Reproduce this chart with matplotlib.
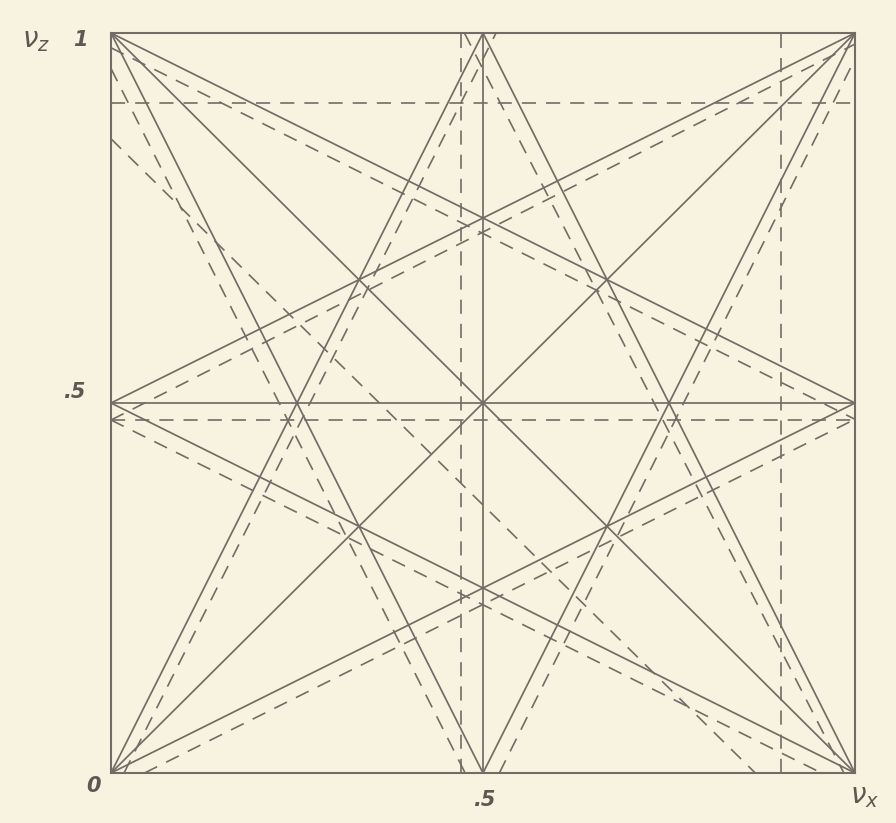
import matplotlib
matplotlib.use("Agg")
import matplotlib.pyplot as plt
import numpy as np

# Solid resonance lines: (x1, z1, x2, z2)
solid_x1 = [0.5, 0.0, 0.0, 0.0, 0.0, 0.5, 0.0, 0.5, 0.0, 0.0, 0.0, 0.0]
solid_z1 = [0.0, 0.5, 0.0, 1.0, 0.0, 1.0, 1.0, 0.0, 0.0, 0.5, 1.0, 0.5]
solid_x2 = [0.5, 1.0, 1.0, 1.0, 0.5, 1.0, 0.5, 1.0, 1.0, 1.0, 1.0, 1.0]
solid_z2 = [1.0, 0.5, 1.0, 0.0, 1.0, 0.0, 0.0, 1.0, 0.5, 0.0, 0.5, 1.0]

# Dashed (shifted) resonance lines
dash_x1 = [0.0, 0.0, 0.471, 0.900, 0.0, 0.045, 0.0, 0.0, 0.0, 0.0175, 0.475, 0.0, 0.522]
dash_z1 = [0.905, 0.477, 0.0, 0.0, 0.857, 0.0, 0.980, 0.477, 0.477, 0.0, 1.0, 0.952, 0.0]
dash_x2 = [1.0, 1.0, 0.471, 0.900, 0.866, 1.0, 1.0, 0.955, 1.0, 0.5175, 0.985, 0.476, 1.0]
dash_z2 = [0.905, 0.477, 1.0, 1.0, 0.0, 0.478, 0.478, 0.0, 0.985, 1.0, 0.0, 0.0, 0.965]

bg = "#f8f3e1"
ink = "#736c66"

W, H = 896, 823
fig = plt.figure(figsize=(W / 100, H / 100), dpi=100, facecolor=bg)
ax = fig.add_axes([111 / W, 1 - 773 / H, 744 / W, 740 / H])
ax.set_facecolor(bg)
ax.set_xlim(0, 1)
ax.set_ylim(0, 1)
for s in ax.spines.values():
    s.set_color(ink)
    s.set_linewidth(1.5)
ax.set_xticks([])
ax.set_yticks([])

for x1, z1, x2, z2 in zip(solid_x1, solid_z1, solid_x2, solid_z2):
    ax.plot([x1, x2], [z1, z2], color=ink, lw=1.25, solid_capstyle="butt")

for x1, z1, x2, z2 in zip(dash_x1, dash_z1, dash_x2, dash_z2):
    ax.plot([x1, x2], [z1, z2], color=ink, lw=1.2, dashes=(8.5, 6))

def ftext(px, py, s, size=15, **kw):
    fig.text(px / W, 1 - py / H, s, fontsize=size, color="#5e5853",
             fontweight="bold", style="italic", family="DejaVu Sans",
             ha="center", va="center", **kw)

ftext(36, 40, r"$\nu_z$", size=20)
ftext(80, 40, "1")
ftext(74, 392, ".5")
ftext(93, 786, "0")
ftext(484, 800, ".5")
ftext(865, 796, r"$\nu_x$", size=20)

fig.savefig("out.png", dpi=100, facecolor=bg)
